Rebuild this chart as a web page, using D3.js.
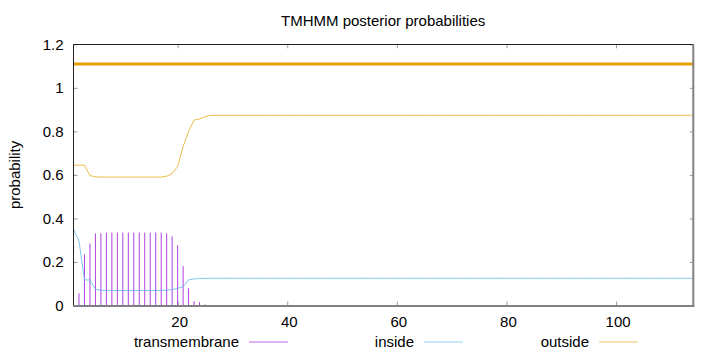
<!DOCTYPE html>
<html><head><meta charset="utf-8">
<script src="https://cdn.jsdelivr.net/npm/d3@7"></script>
<style>
body{margin:0;background:#fff}
svg{display:block}
text{font-family:"Liberation Sans",Arial,Helvetica,sans-serif;font-size:15px;fill:#000}
</style>
</head><body>
<svg id="c" width="720" height="352"></svg>
<script>
// ---- data ----
const positions = d3.range(1, 115); // residue index 1..114
const transmembrane = [
  0, 0.056, 0.235, 0.284, 0.331, 0.332, 0.335, 0.335, 0.335, 0.335,
  0.335, 0.335, 0.335, 0.335, 0.335, 0.335, 0.335, 0.331, 0.318, 0.277,
  0.181, 0.079, 0.02, 0.015, 0.005, 0, 0, 0, 0, 0,
  0, 0, 0, 0, 0, 0, 0, 0, 0, 0,
  0, 0, 0, 0, 0, 0, 0, 0, 0, 0,
  0, 0, 0, 0, 0, 0, 0, 0, 0, 0,
  0, 0, 0, 0, 0, 0, 0, 0, 0, 0,
  0, 0, 0, 0, 0, 0, 0, 0, 0, 0,
  0, 0, 0, 0, 0, 0, 0, 0, 0, 0,
  0, 0, 0, 0, 0, 0, 0, 0, 0, 0,
  0, 0, 0, 0, 0, 0, 0, 0, 0, 0,
  0, 0, 0, 0
];
const inside = [
  0.35, 0.296, 0.118, 0.117, 0.074, 0.07, 0.069, 0.069, 0.069, 0.069,
  0.069, 0.069, 0.069, 0.069, 0.069, 0.069, 0.069, 0.07, 0.073, 0.079,
  0.086, 0.118, 0.122, 0.124, 0.125, 0.125, 0.125, 0.125, 0.125, 0.125,
  0.125, 0.125, 0.125, 0.125, 0.125, 0.125, 0.125, 0.125, 0.125, 0.125,
  0.125, 0.125, 0.125, 0.125, 0.125, 0.125, 0.125, 0.125, 0.125, 0.125,
  0.125, 0.125, 0.125, 0.125, 0.125, 0.125, 0.125, 0.125, 0.125, 0.125,
  0.125, 0.125, 0.125, 0.125, 0.125, 0.125, 0.125, 0.125, 0.125, 0.125,
  0.125, 0.125, 0.125, 0.125, 0.125, 0.125, 0.125, 0.125, 0.125, 0.125,
  0.125, 0.125, 0.125, 0.125, 0.125, 0.125, 0.125, 0.125, 0.125, 0.125,
  0.125, 0.125, 0.125, 0.125, 0.125, 0.125, 0.125, 0.125, 0.125, 0.125,
  0.125, 0.125, 0.125, 0.125, 0.125, 0.125, 0.125, 0.125, 0.125, 0.125,
  0.125, 0.125, 0.125, 0.125
];
const outside = [
  0.645, 0.645, 0.645, 0.597, 0.591, 0.59, 0.59, 0.59, 0.59, 0.59,
  0.59, 0.59, 0.59, 0.59, 0.59, 0.59, 0.59, 0.594, 0.606, 0.639,
  0.73, 0.80, 0.852, 0.857, 0.867, 0.873, 0.874, 0.874, 0.874, 0.874,
  0.874, 0.874, 0.874, 0.874, 0.874, 0.874, 0.874, 0.874, 0.874, 0.874,
  0.874, 0.874, 0.874, 0.874, 0.874, 0.874, 0.874, 0.874, 0.874, 0.874,
  0.874, 0.874, 0.874, 0.874, 0.874, 0.874, 0.874, 0.874, 0.874, 0.874,
  0.874, 0.874, 0.874, 0.874, 0.874, 0.874, 0.874, 0.874, 0.874, 0.874,
  0.874, 0.874, 0.874, 0.874, 0.874, 0.874, 0.874, 0.874, 0.874, 0.874,
  0.874, 0.874, 0.874, 0.874, 0.874, 0.874, 0.874, 0.874, 0.874, 0.874,
  0.874, 0.874, 0.874, 0.874, 0.874, 0.874, 0.874, 0.874, 0.874, 0.874,
  0.874, 0.874, 0.874, 0.874, 0.874, 0.874, 0.874, 0.874, 0.874, 0.874,
  0.874, 0.874, 0.874, 0.874
];
// predicted topology segments (drawn as thick bar near the top)
const topoSegments = [{ label: "outside", start: 1, end: 114, level: 1.11 }];
const xTicks = [20, 40, 60, 80, 100];
const yTicks = [0, 0.2, 0.4, 0.6, 0.8, 1, 1.2];
const yTickLabels = ["0", "0.2", "0.4", "0.6", "0.8", "1", "1.2"];
const legendLabels = ["transmembrane", "inside", "outside"];
const titleText = "TMHMM posterior probabilities";
const yLabelText = "probability";

// ---- styling ----
const colTM = "#9400d3", colIn = "#56b4e9", colOut = "#e69f00";
const L = 73.5, R = 692.8, T = 44.3, B = 305.5;

const svg = d3.select("#c");
const x = d3.scaleLinear().domain([1, 114]).range([L, R]);
const y = d3.scaleLinear().domain([0, 1.2]).range([B, T]);

// title
svg.append("text").attr("x", (L + R) / 2).attr("y", 26)
  .attr("text-anchor", "middle").text(titleText);
// y label
svg.append("text").attr("transform", `translate(20,${(T + B) / 2}) rotate(-90)`)
  .attr("text-anchor", "middle").text(yLabelText);

// axes (ticks inward)
const gL = svg.append("g").attr("transform", `translate(${L},0)`)
  .call(d3.axisLeft(y).tickValues(yTicks).tickSize(-4).tickPadding(10)
    .tickFormat((d, i) => yTickLabels[i]));
const gB = svg.append("g").attr("transform", `translate(0,${B})`)
  .call(d3.axisBottom(x).tickValues(xTicks).tickSize(-4).tickPadding(11));
const gT = svg.append("g").attr("transform", `translate(0,${T})`)
  .call(d3.axisTop(x).tickValues(xTicks).tickSize(-4).tickFormat(""));
const gR = svg.append("g").attr("transform", `translate(${R},0)`)
  .call(d3.axisRight(y).tickValues(yTicks).tickSize(-3).tickFormat(""));
[gL, gB, gT, gR].forEach(g => {
  g.select(".domain").remove();
  g.selectAll(".tick line").attr("stroke", "#999");
  g.selectAll(".tick text").attr("font-size", 15)
    .attr("font-family", '"Liberation Sans",Arial,sans-serif').attr("fill", "#000");
});
gB.selectAll(".tick text").attr("dx", 1.5);

// transmembrane impulses
svg.append("g").selectAll("line").data(positions.filter((p, i) => transmembrane[i] > 0))
  .join("line")
  .attr("x1", p => x(p)).attr("x2", p => x(p))
  .attr("y1", y(0)).attr("y2", p => y(transmembrane[p - 1]))
  .attr("stroke", colTM).attr("stroke-width", 1).attr("stroke-opacity", 0.75);

const line = d3.line().x(d => x(d[0])).y(d => y(d[1]));
svg.append("path").datum(positions.map((p, i) => [p, inside[i]]))
  .attr("d", line).attr("fill", "none").attr("stroke", colIn)
  .attr("stroke-width", 1).attr("stroke-opacity", 0.75);
svg.append("path").datum(positions.map((p, i) => [p, outside[i]]))
  .attr("d", line).attr("fill", "none").attr("stroke", colOut)
  .attr("stroke-width", 1).attr("stroke-opacity", 0.7);

// topology bar
svg.append("g").selectAll("line").data(topoSegments).join("line")
  .attr("x1", d => x(d.start)).attr("x2", d => x(d.end))
  .attr("y1", d => y(d.level)).attr("y2", d => y(d.level))
  .attr("stroke", colOut).attr("stroke-width", 3);

// border
svg.append("line").attr("x1", L).attr("x2", R + 1).attr("y1", 44.5).attr("y2", 44.5)
  .attr("stroke", "#222").attr("stroke-width", 1);
svg.append("line").attr("x1", L).attr("x2", L).attr("y1", T).attr("y2", B)
  .attr("stroke", "#222").attr("stroke-width", 1);
svg.append("line").attr("x1", L - 0.5).attr("x2", R + 1.5).attr("y1", B + 0.5).attr("y2", B + 0.5)
  .attr("stroke", "#808080").attr("stroke-width", 2);
svg.append("line").attr("x1", R + 0.5).attr("x2", R + 0.5).attr("y1", T).attr("y2", B + 1)
  .attr("stroke", "#808080").attr("stroke-width", 2);

// legend
const legX = [239, 414, 589];
const legCol = [colTM, colIn, colOut];
const leg = svg.append("g").selectAll("g").data(legendLabels).join("g");
leg.append("text").attr("x", (d, i) => legX[i]).attr("y", 347)
  .attr("text-anchor", "end").text(d => d);
leg.append("line").attr("x1", (d, i) => legX[i] + 10).attr("x2", (d, i) => legX[i] + 49)
  .attr("y1", 342).attr("y2", 342).attr("stroke", (d, i) => legCol[i])
  .attr("stroke-opacity", 0.6).attr("stroke-width", 1);
</script>
</body></html>
